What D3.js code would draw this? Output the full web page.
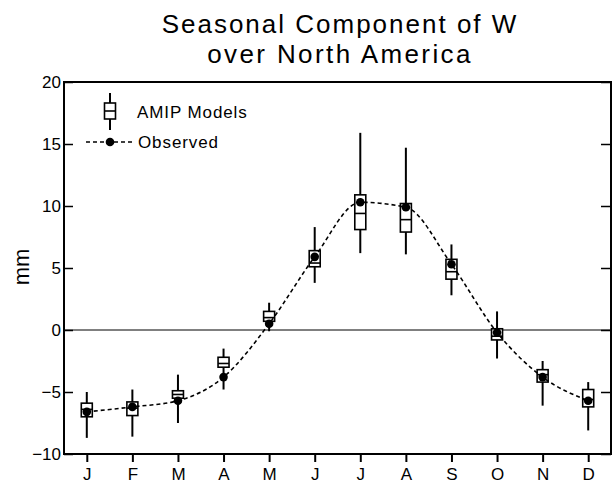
<!DOCTYPE html>
<html>
<head>
<meta charset="utf-8">
<script src="https://cdn.jsdelivr.net/npm/d3@7"></script>
<style>
  body { margin: 0; background: #fff; }
  svg { display: block; font-family: "Liberation Sans", Arial, sans-serif; }
  .axis text { font-size: 17px; fill: #000; }
</style>
</head>
<body>
<div id="chart"></div>
<script>
const MONTHS = ['J', 'F', 'M', 'A', 'M', 'J', 'J', 'A', 'S', 'O', 'N', 'D'];
const Y_TICKS = [-10, -5, 0, 5, 10, 15, 20];

// AMIP model spread per month
const WHISKER_HI = [-5.0, -4.8, -3.6, -1.5, 2.2, 8.3, 15.9, 14.7, 6.9, 1.5, -2.5, -4.2];
const BOX_HI     = [-5.9, -5.8, -4.9, -2.2, 1.5, 6.4, 10.9, 10.2, 5.7, 0.1, -3.2, -4.8];
const MEDIAN     = [-6.4, -6.3, -5.2, -2.7, 1.0, 5.4, 9.4, 8.9, 4.7, -0.5, -3.6, -5.6];
const BOX_LO     = [-7.0, -6.9, -5.5, -3.0, 0.7, 5.1, 8.1, 7.9, 4.1, -0.8, -4.2, -6.2];
const WHISKER_LO = [-8.7, -8.6, -7.5, -4.8, -0.1, 3.8, 6.2, 6.1, 2.8, -2.3, -6.1, -8.1];

// observed
const OBSERVED = [-6.6, -6.2, -5.7, -3.8, 0.5, 5.9, 10.3, 9.9, 5.3, -0.2, -3.8, -5.7];

const w = 614, h = 484;
const m = { top: 82, right: 3, bottom: 30, left: 64 };
const iw = w - m.left - m.right;
const ih = h - m.top - m.bottom;
const boxW = 11;

const svg = d3.select('#chart').append('svg')
  .attr('width', w).attr('height', h);

svg.append('text')
  .attr('x', 340).attr('y', 33)
  .attr('text-anchor', 'middle')
  .attr('font-size', '26px')
  .attr('letter-spacing', '2px')
  .text('Seasonal Component of W');

svg.append('text')
  .attr('x', 340).attr('y', 63)
  .attr('text-anchor', 'middle')
  .attr('font-size', '26px')
  .attr('letter-spacing', '2.4px')
  .text('over North America');

const g = svg.append('g').attr('transform', `translate(${m.left},${m.top})`);

const x = d3.scaleLinear().domain([-0.5, 11.5]).range([0, iw]);
const y = d3.scaleLinear().domain([-10, 20]).range([ih, 0]);

const rows = MONTHS.map((mo, i) => ({
  i, hi: WHISKER_HI[i], q3: BOX_HI[i], med: MEDIAN[i], q1: BOX_LO[i], lo: WHISKER_LO[i], obs: OBSERVED[i]
}));

// zero line
g.append('line')
  .attr('x1', 0).attr('x2', iw)
  .attr('y1', y(0)).attr('y2', y(0))
  .attr('stroke', '#000').attr('stroke-width', 1);

// axes
const left = g.append('g').attr('class', 'axis')
  .call(d3.axisLeft(y).tickValues(Y_TICKS).tickSizeInner(-9).tickSizeOuter(0).tickPadding(3));
left.select('.domain').remove();
left.selectAll('.tick line').attr('stroke-width', 1.5);

const right = g.append('g').attr('class', 'axis')
  .attr('transform', `translate(${iw},0)`)
  .call(d3.axisRight(y).tickValues(Y_TICKS).tickSizeInner(-10).tickSizeOuter(0).tickFormat(''));
right.select('.domain').remove();
right.selectAll('.tick line').attr('stroke-width', 1.5);

const bottom = g.append('g').attr('class', 'axis')
  .attr('transform', `translate(0,${ih})`)
  .call(d3.axisBottom(x).tickValues(d3.range(12)).tickSizeInner(8).tickSizeOuter(0)
    .tickPadding(6).tickFormat(i => MONTHS[i]));
bottom.select('.domain').remove();
bottom.selectAll('.tick line').attr('stroke-width', 2);

// frame
g.append('rect')
  .attr('x', 0).attr('y', 0).attr('width', iw).attr('height', ih)
  .attr('fill', 'none').attr('stroke', '#000').attr('stroke-width', 2);

svg.append('text')
  .attr('transform', 'rotate(-90)')
  .attr('x', -267).attr('y', 29)
  .attr('text-anchor', 'middle')
  .attr('font-size', '22px')
  .text('mm');

// boxes
const boxes = g.selectAll('.box').data(rows).join('g').attr('class', 'box');

boxes.append('line')
  .attr('x1', d => x(d.i)).attr('x2', d => x(d.i))
  .attr('y1', d => y(d.hi)).attr('y2', d => y(d.lo))
  .attr('stroke', '#000').attr('stroke-width', 2);

boxes.append('rect')
  .attr('x', d => x(d.i) - boxW / 2)
  .attr('y', d => y(d.q3))
  .attr('width', boxW)
  .attr('height', d => y(d.q1) - y(d.q3))
  .attr('fill', '#fff').attr('stroke', '#000').attr('stroke-width', 1.6);

boxes.append('line')
  .attr('x1', d => x(d.i) - boxW / 2).attr('x2', d => x(d.i) + boxW / 2)
  .attr('y1', d => y(d.med)).attr('y2', d => y(d.med))
  .attr('stroke', '#000').attr('stroke-width', 1.6);

// observed curve
const line = d3.line()
  .x(d => x(d.i))
  .y(d => y(d.obs))
  .curve(d3.curveMonotoneX);

g.append('path')
  .datum(rows)
  .attr('fill', 'none')
  .attr('stroke', '#000')
  .attr('stroke-width', 1.6)
  .attr('stroke-dasharray', '4,3')
  .attr('d', line);

g.selectAll('.obs')
  .data(rows)
  .join('circle')
  .attr('class', 'obs')
  .attr('cx', d => x(d.i))
  .attr('cy', d => y(d.obs))
  .attr('r', 4.3)
  .attr('fill', '#000');

// legend
const lg = svg.append('g');
lg.append('line')
  .attr('x1', 110).attr('x2', 110).attr('y1', 93).attr('y2', 130)
  .attr('stroke', '#000').attr('stroke-width', 2);
lg.append('rect')
  .attr('x', 110 - boxW / 2).attr('y', 103).attr('width', boxW).attr('height', 16)
  .attr('fill', '#fff').attr('stroke', '#000').attr('stroke-width', 1.6);
lg.append('line')
  .attr('x1', 110 - boxW / 2).attr('x2', 110 + boxW / 2).attr('y1', 111).attr('y2', 111)
  .attr('stroke', '#000').attr('stroke-width', 1.6);
lg.append('text')
  .attr('x', 137).attr('y', 118)
  .attr('font-size', '17px').attr('letter-spacing', '0.9px')
  .text('AMIP Models');

lg.append('line')
  .attr('x1', 86).attr('x2', 133).attr('y1', 142).attr('y2', 142)
  .attr('stroke', '#000').attr('stroke-width', 1.6)
  .attr('stroke-dasharray', '4,3');
lg.append('circle')
  .attr('cx', 110).attr('cy', 142).attr('r', 4.3).attr('fill', '#000');
lg.append('text')
  .attr('x', 138).attr('y', 148)
  .attr('font-size', '17px').attr('letter-spacing', '0.9px')
  .text('Observed');
</script>
</body>
</html>
